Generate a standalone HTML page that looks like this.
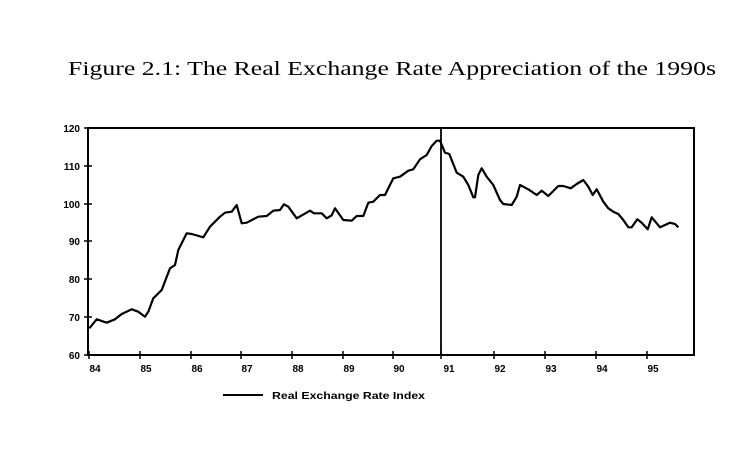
<!DOCTYPE html>
<html><head><meta charset="utf-8"><style>
html,body{margin:0;padding:0;background:#fff;}
svg{display:block;}
</style></head><body>
<svg width="749" height="458" viewBox="0 0 749 458" xmlns="http://www.w3.org/2000/svg">
<text x="68" y="75" font-family="Liberation Serif, serif" font-size="20" textLength="648" lengthAdjust="spacingAndGlyphs" fill="#000">Figure 2.1: The Real Exchange Rate Appreciation of the 1990s</text>
<rect x="88" y="128" width="606" height="227" fill="none" stroke="#000" stroke-width="2"/>
<g stroke="#000" stroke-width="1.5">
<line x1="84" y1="128" x2="92" y2="128"/><line x1="84" y1="166" x2="92" y2="166"/><line x1="84" y1="204" x2="92" y2="204"/><line x1="84" y1="241" x2="92" y2="241"/><line x1="84" y1="279" x2="92" y2="279"/><line x1="84" y1="317" x2="92" y2="317"/><line x1="84" y1="355" x2="92" y2="355"/>
<line x1="89" y1="351" x2="89" y2="359"/><line x1="140" y1="351" x2="140" y2="359"/><line x1="191" y1="351" x2="191" y2="359"/><line x1="241" y1="351" x2="241" y2="359"/><line x1="292" y1="351" x2="292" y2="359"/><line x1="343" y1="351" x2="343" y2="359"/><line x1="393" y1="351" x2="393" y2="359"/><line x1="441" y1="351" x2="441" y2="359"/><line x1="494" y1="351" x2="494" y2="359"/><line x1="545" y1="351" x2="545" y2="359"/><line x1="596" y1="351" x2="596" y2="359"/><line x1="647" y1="351" x2="647" y2="359"/>
</g>
<line x1="441" y1="128" x2="441" y2="355" stroke="#000" stroke-width="1.8"/>
<g font-family="Liberation Sans, sans-serif" font-size="10" font-weight="bold" fill="#000" text-anchor="end">
<text x="80" y="132">120</text><text x="80" y="170">110</text><text x="80" y="208">100</text><text x="80" y="245">90</text><text x="80" y="283">80</text><text x="80" y="321">70</text><text x="80" y="359">60</text>
</g>
<g font-family="Liberation Sans, sans-serif" font-size="10" font-weight="bold" fill="#000" text-anchor="middle">
<text x="95" y="372">84</text><text x="146" y="372">85</text><text x="197" y="372">86</text><text x="247" y="372">87</text><text x="298" y="372">88</text><text x="349" y="372">89</text><text x="399" y="372">90</text><text x="449" y="372">91</text><text x="500" y="372">92</text><text x="551" y="372">93</text><text x="602" y="372">94</text><text x="653" y="372">95</text>
</g>
<polyline fill="none" stroke="#000" stroke-width="2.2" stroke-linejoin="round" points="89.3,328.3 96.7,319.3 106.7,322.7 115,319.3 121.7,314 131.7,309.3 138.3,311.7 145,316.7 148.3,311.7 153.3,298.3 161.7,290 170,268.3 175,265 178.3,250 186.7,233.3 191.7,234 203.3,237.3 210,226.7 220,216.7 225,212.7 231.7,211.7 236.7,205 241.7,223.3 246.7,222.7 258.3,216.7 266.7,216 273.3,210.7 280,210 284,204.3 288.3,206.7 296.7,218.3 310,210.7 314,213.3 321.7,213.3 326.7,218.3 331.7,215.3 335,208.3 343.3,220 351.7,220.7 356.7,216 363.3,216 368.3,202.7 373.3,201.7 380,195 385,195 393.3,178.3 400,176.7 408.3,170.7 413.3,169.3 420,159.3 426.7,155 431.7,146 436.7,140.7 440,140.7 445,152.7 449.3,154 456.7,172.7 463.3,176.7 468.3,185 473.3,197.3 475,197.3 478.3,175 481.7,168.3 486.7,176.7 493.3,185 500,200 503.3,204 511.7,205 516.7,196.7 520,185 528.3,189.3 536.7,195 541.7,190.7 548.3,196 558.3,186 563.3,186 570.7,188.3 576.7,184 583.3,180 588.3,186.7 592.7,195 596.7,189.3 603.3,201.7 608.3,208.3 613.3,211.7 618.3,214 623.3,220 628.3,227.3 631.7,227.3 637.3,219.3 641.7,222.7 647.7,229.3 651.7,217.3 660,227.3 665,225 670,222.7 675,224 678.3,227.3"/>
<line x1="223" y1="395" x2="263" y2="395" stroke="#000" stroke-width="2"/>
<text x="272" y="399" font-family="Liberation Sans, sans-serif" font-size="10" font-weight="bold" textLength="153" lengthAdjust="spacingAndGlyphs" fill="#000">Real Exchange Rate Index</text>
</svg>
</body></html>
